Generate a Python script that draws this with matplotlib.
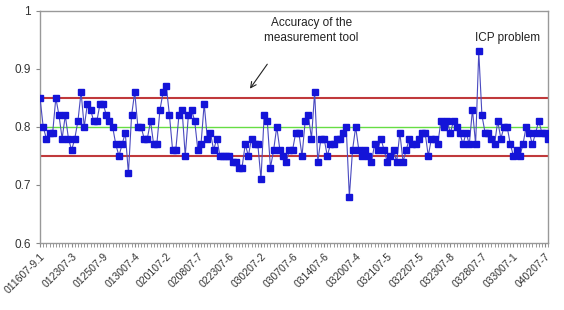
import matplotlib.pyplot as plt

plt.rcParams['font.family'] = ['Liberation Sans', 'DejaVu Sans']

valores = [
    0.85, 0.80, 0.78, 0.79, 0.79, 0.85, 0.82, 0.78, 0.82, 0.78,
    0.76, 0.78, 0.81, 0.86, 0.80, 0.84, 0.83, 0.81, 0.81, 0.84,
    0.84, 0.82, 0.81, 0.80, 0.77, 0.75, 0.77, 0.79, 0.72,
    0.82, 0.86, 0.80, 0.80, 0.78, 0.78, 0.81, 0.77, 0.77, 0.83,
    0.86, 0.87, 0.82, 0.76, 0.76, 0.82, 0.83, 0.75, 0.82, 0.83,
    0.81, 0.76, 0.77, 0.84, 0.78, 0.79,
    0.76, 0.78, 0.75, 0.75, 0.75, 0.75, 0.74, 0.74, 0.73, 0.73,
    0.77, 0.75, 0.78, 0.77, 0.77, 0.71, 0.82, 0.81, 0.73, 0.76,
    0.80, 0.76, 0.75, 0.74, 0.76, 0.76, 0.79,
    0.79, 0.75, 0.81, 0.82, 0.78, 0.86, 0.74, 0.78, 0.78, 0.75,
    0.77, 0.77, 0.78, 0.78, 0.79, 0.80, 0.68, 0.76, 0.80, 0.76,
    0.75, 0.76, 0.75, 0.74, 0.77, 0.76, 0.78,
    0.76, 0.74, 0.75, 0.76, 0.74, 0.79, 0.74, 0.76, 0.78, 0.77,
    0.77, 0.78, 0.79, 0.79, 0.75, 0.78, 0.78, 0.77, 0.81, 0.80,
    0.81, 0.79, 0.81, 0.80,
    0.79, 0.77, 0.79, 0.77, 0.83, 0.77, 0.93, 0.82, 0.79, 0.79,
    0.78, 0.77, 0.81, 0.78, 0.80, 0.80, 0.77, 0.75, 0.76, 0.75,
    0.77, 0.80, 0.79, 0.77, 0.79, 0.81, 0.79, 0.79, 0.78,
]

# one label every 10 points
etiquetas = [
    '011607-9.1', '012307-3', '012507-9', '013007-4', '020107-2',
    '020807-7', '022307-6', '030207-2', '030707-6', '031407-6',
    '032007-4', '032107-5', '032207-5', '032307-8', '032807-7',
    '033007-1', '040207-7',
]

limite_sup = 0.85
limite_inf = 0.75
objetivo = 0.80

n = len(valores)
x = list(range(n))

fig = plt.figure(figsize=(5.64, 3.10), dpi=100)
ax = fig.add_axes([0.071, 0.216, 0.901, 0.749])

ax.axhline(limite_sup, color='#c0393b', lw=1.5, zorder=2)
ax.axhline(limite_inf, color='#c0393b', lw=1.5, zorder=2)
ax.axhline(objetivo, color='#66dd44', lw=1.0, zorder=2)

ax.plot(x, valores, color='#4a4ac0', lw=0.8, marker='s', markersize=4.5,
        markerfacecolor='#1414d8', markeredgecolor='#1414d8', zorder=3)

ax.set_xlim(0, n - 1)
ax.set_ylim(0.6, 1.0)
ax.set_yticks([0.6, 0.7, 0.8, 0.9, 1.0])
ax.set_yticklabels(['0.6', '0.7', '0.8', '0.9', '1'], fontsize=8.5, color='#333333')

ax.set_xticks(list(range(0, 10 * len(etiquetas), 10)))
ax.set_xticklabels(etiquetas, rotation=45, ha='right', rotation_mode='anchor',
                   fontsize=7.5, color='#333333')
ax.set_xticks(x, minor=True)
ax.tick_params(axis='x', which='both', length=3, color='#888888', pad=3)
ax.tick_params(axis='y', length=3, color='#888888')

for lado in ['left', 'bottom', 'top', 'right']:
    ax.spines[lado].set_color('#999999')
    ax.spines[lado].set_linewidth(1.0)

ax.text(86, 0.966, 'Accuracy of the\nmeasurement tool', ha='center', va='center',
        fontsize=8.5, color='#222222', linespacing=1.3)
ax.annotate('', xy=(66, 0.862), xytext=(72.5, 0.912),
            arrowprops=dict(arrowstyle='->', color='#222222', lw=0.8))
ax.text(148, 0.953, 'ICP problem', ha='center', va='center',
        fontsize=8.5, color='#222222')

plt.savefig('out.png', dpi=100)
